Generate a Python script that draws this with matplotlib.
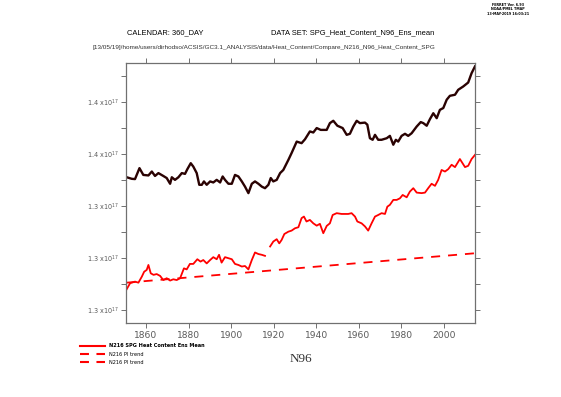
import matplotlib
matplotlib.use("Agg")
import matplotlib.pyplot as plt
from matplotlib.lines import Line2D
from matplotlib.ticker import MultipleLocator, FuncFormatter
import numpy as np

# ----------------------------------------------------------------------------------------------------------------------
#  DATA  (heat content, units of 1e17 J)
# ----------------------------------------------------------------------------------------------------------------------
n96_years = [1850.9, 1853.3, 1854.8, 1856.9, 1858.7, 1861.1, 1862.7, 1864.2, 1865.8, 1868.1,
             1869.7, 1871.3, 1872.1, 1873.6, 1875.2, 1876.8, 1878.3, 1879.4, 1881.0, 1882.2,
             1883.8, 1885.0, 1886.2, 1887.2, 1888.5, 1890.1, 1891.6, 1893.2, 1894.8, 1896.0,
             1897.1, 1898.7, 1900.3, 1901.8, 1903.4, 1905.0, 1906.5, 1908.1, 1909.7, 1911.2,
             1912.8, 1914.4, 1915.9, 1917.5, 1918.6, 1919.8, 1921.4, 1923.0, 1924.5, 1926.9,
             1928.4, 1930.8, 1933.1, 1934.7, 1937.0, 1938.6, 1940.2, 1942.1, 1944.9, 1946.4,
             1948.0, 1949.9, 1952.4, 1954.3, 1955.8, 1957.4, 1959.0, 1960.5, 1962.9, 1964.0,
             1965.2, 1966.5, 1967.6, 1969.1, 1970.7, 1973.1, 1974.6, 1976.2, 1977.4, 1978.5,
             1980.1, 1981.7, 1983.2, 1984.8, 1987.2, 1989.1, 1990.3, 1991.9, 1993.4, 1995.0,
             1996.6, 1998.1, 1999.7, 2001.3, 2002.8, 2005.2, 2006.7, 2009.1, 2011.4, 2013.0,
             2014.6]
n96_heat = [1.3510, 1.3504, 1.3503, 1.3545, 1.3519, 1.3517, 1.3532, 1.3515, 1.3526, 1.3515,
            1.3507, 1.3485, 1.3510, 1.3500, 1.3510, 1.3526, 1.3523, 1.3541, 1.3564, 1.3551,
            1.3526, 1.3481, 1.3481, 1.3494, 1.3481, 1.3494, 1.3490, 1.3500, 1.3490, 1.3513,
            1.3500, 1.3485, 1.3485, 1.3519, 1.3513, 1.3494, 1.3474, 1.3449, 1.3485, 1.3494,
            1.3485, 1.3474, 1.3468, 1.3481, 1.3507, 1.3494, 1.3500, 1.3526, 1.3538, 1.3577,
            1.3603, 1.3647, 1.3641, 1.3656, 1.3686, 1.3682, 1.3699, 1.3692, 1.3692, 1.3718,
            1.3727, 1.3708, 1.3699, 1.3673, 1.3677, 1.3705, 1.3727, 1.3718, 1.3720, 1.3712,
            1.3660, 1.3654, 1.3673, 1.3654, 1.3654, 1.3660, 1.3669, 1.3635, 1.3654, 1.3647,
            1.3669, 1.3677, 1.3669, 1.3679, 1.3705, 1.3722, 1.3718, 1.3708, 1.3733, 1.3756,
            1.3737, 1.3769, 1.3776, 1.3808, 1.3823, 1.3827, 1.3846, 1.3859, 1.3874, 1.3910,
            1.3936]

n216_years = [1850.9, 1852.5, 1854.8, 1856.4, 1858.0, 1859.1, 1860.3, 1861.1, 1862.2, 1863.5,
              1865.0, 1866.6, 1868.1, 1869.7, 1871.3, 1872.8, 1874.4, 1876.0, 1877.8, 1879.1,
              1880.6, 1882.2, 1884.1, 1885.6, 1886.9, 1888.5, 1890.1, 1891.6, 1893.2, 1894.3,
              1895.5, 1897.1, 1898.7, 1900.3, 1901.8, 1903.4, 1905.0, 1906.5, 1908.1, 1909.7,
              1911.2, 1912.8, 1914.4, 1915.9, 1917.0, 1918.3, 1919.8, 1921.4, 1922.6, 1923.7,
              1925.0, 1926.9, 1928.4, 1930.0, 1931.6, 1933.1, 1934.2, 1935.4, 1937.0, 1938.6,
              1940.2, 1941.7, 1943.3, 1944.9, 1946.4, 1947.7, 1949.6, 1951.9, 1953.5, 1955.0,
              1956.6, 1958.2, 1959.3, 1961.3, 1962.9, 1964.4, 1966.0, 1967.6, 1969.1, 1970.7,
              1972.3, 1973.4, 1974.6, 1976.2, 1977.8, 1979.3, 1980.6, 1982.5, 1984.0, 1985.6,
              1987.2, 1989.5, 1991.1, 1992.6, 1994.2, 1995.8, 1997.3, 1998.9, 2000.5, 2002.0,
              2003.6, 2005.2, 2007.5, 2009.9, 2011.4, 2013.0, 2014.6]
n216_heat = [1.3080, 1.3103, 1.3109, 1.3105, 1.3128, 1.3147, 1.3154, 1.3173, 1.3141, 1.3135,
             1.3138, 1.3131, 1.3115, 1.3122, 1.3113, 1.3118, 1.3115, 1.3122, 1.3160, 1.3156,
             1.3177, 1.3177, 1.3195, 1.3186, 1.3192, 1.3179, 1.3192, 1.3203, 1.3195, 1.3212,
             1.3182, 1.3203, 1.3199, 1.3195, 1.3177, 1.3173, 1.3167, 1.3169, 1.3156, 1.3192,
             1.3221, 1.3215, 1.3212, 1.3208, np.nan, 1.3244, 1.3263, 1.3272, 1.3256, 1.3269,
             1.3292, 1.3301, 1.3305, 1.3314, 1.3318, 1.3353, 1.3359, 1.3340, 1.3346, 1.3333,
             1.3324, 1.3331, 1.3295, 1.3323, 1.3333, 1.3365, 1.3372, 1.3369, 1.3369, 1.3369,
             1.3372, 1.3359, 1.3340, 1.3333, 1.3321, 1.3305, 1.3333, 1.3359, 1.3365, 1.3372,
             1.3369, 1.3397, 1.3404, 1.3423, 1.3423, 1.3429, 1.3442, 1.3433, 1.3455, 1.3468,
             1.3451, 1.3449, 1.3451, 1.3468, 1.3485, 1.3477, 1.3500, 1.3538, 1.3532, 1.3541,
             1.3558, 1.3549, 1.3580, 1.3549, 1.3554, 1.3580, 1.3596]

trend_years = [1850.9, 2014.6]
trend_heat = [1.3105, 1.3218]

legend_labels = ['N216 SPG Heat Content Ens Mean', 'N216 PI trend', 'N216 PI trend']

# ----------------------------------------------------------------------------------------------------------------------
#  PLOT
# ----------------------------------------------------------------------------------------------------------------------
frame_color = '#707070'
label_color = '#5a5a5a'
dash_style = (0, (5.0, 4.4))

fig = plt.figure(figsize=(5.61, 3.97), dpi=100)
ax = fig.add_axes([0.2251, 0.1864, 0.6216, 0.6549])

ax.plot(n216_years, n216_heat, color='#ff0000', linewidth=1.3)
ax.plot(trend_years, trend_heat, color='#ff0000', linewidth=1.3, linestyle=dash_style)
ax.plot(n96_years, n96_heat, color='#2a0202', linewidth=1.7)

ax.set_xlim(1850.7, 2014.6)
ax.set_ylim(1.295, 1.3949)

ax.xaxis.set_major_locator(MultipleLocator(20))
ax.yaxis.set_major_locator(MultipleLocator(0.02))
ax.yaxis.set_minor_locator(MultipleLocator(0.01))
ax.yaxis.set_major_formatter(FuncFormatter(lambda v, p: '%.1f x10$^{17}$' % v))

for side in ax.spines.values():
    side.set_color(frame_color)
    side.set_linewidth(0.9)

ax.tick_params(which='both', direction='out', length=3.6, width=0.7, color=frame_color,
               top=True, right=True, labelcolor=label_color)
ax.tick_params(axis='x', labelsize=6.6, pad=2.5)
ax.tick_params(axis='y', labelsize=4.7, pad=2)

# headers
fig.text(0.226, 0.917, 'CALENDAR: 360_DAY', fontsize=5.4, color='black',
         family='Liberation Sans', va='center')
fig.text(0.483, 0.917, 'DATA SET: SPG_Heat_Content_N96_Ens_mean', fontsize=5.4, color='black',
         family='Liberation Sans', va='center')
fig.text(0.164, 0.880,
         '[13/05/19]/home/users/dirhodso/ACSIS/GC3.1_ANALYSIS/data/Heat_Content/'
         'Compare_N216_N96_Heat_Content_SPG',
         fontsize=4.6, color='#303030', family='Liberation Sans', va='center')
fig.text(0.905, 0.992, 'FERRET Ver. 6.93\nNOAA/PMEL TMAP\n13-MAY-2019 16:03:21',
         fontsize=2.4, weight='bold', ha='center', va='top', linespacing=1.1)

# legend
handles = [Line2D([], [], color='#ff0000', linewidth=1.5),
           Line2D([], [], color='#ff0000', linewidth=1.5, linestyle=(0, (4.3, 3.6))),
           Line2D([], [], color='#ff0000', linewidth=1.5, linestyle=(0, (4.3, 3.6)))]
leg = fig.legend(handles, legend_labels, loc='upper left', bbox_to_anchor=(0.1426, 0.135),
                 frameon=False, fontsize=3.6, handlelength=5.0, handletextpad=0.8,
                 labelspacing=0.65, borderpad=0, borderaxespad=0)
leg.get_texts()[0].set_weight('bold')

fig.text(0.537, 0.096, 'N96', fontsize=9.5, family='Liberation Serif', ha='center', va='center',
         color='#333333')

plt.savefig('out.png', dpi=100)
